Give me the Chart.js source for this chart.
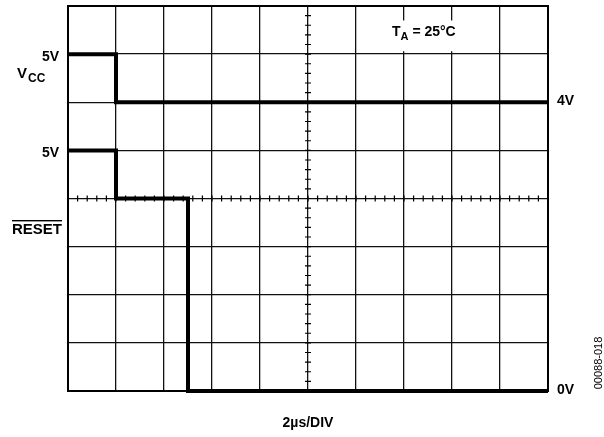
<!DOCTYPE html>
<html>
<head>
<meta charset="utf-8">
<script src="https://cdn.jsdelivr.net/npm/chart.js@4.4.1/dist/chart.umd.min.js"></script>
<style>
  html, body { margin: 0; padding: 0; background: #fff; }
  #wrap { width: 604px; height: 437px; position: relative; }
</style>
</head>
<body>
<div id="wrap"><canvas id="scope"></canvas></div>
<script>
// scope trace data, in divisions (x: 10 div, y: 8 div)
const vccX = [0, 1, 1, 10];
const vccY = [7, 7, 6, 6];
const resetX = [0, 1, 1, 2.5, 2.5, 10];
const resetY = [5, 5, 4, 4, 0, 0];

// side labels: [division, text]
const leftLabels = [[7, '5V'], [5, '5V']];
const rightLabels = [[6, '4V'], [0, '0V']];
const xTitle = '2µs/DIV';
const tempLabel = '= 25°C';
const figId = '00088-018';

const FAM = '"Liberation Sans", Arial, sans-serif';
const FONT = 'bold 14px ' + FAM;

const toPts = (xs, ys) => xs.map((x, i) => ({ x, y: ys[i] }));

const overlay = {
    id: 'overlay',
    beforeDatasetsDraw(chart) {
        const { ctx, chartArea: a, scales: { x, y } } = chart;
        ctx.save();
        // minor ticks on the centre cross
        ctx.strokeStyle = '#000'; ctx.lineWidth = 1.2;
        const cx = x.getPixelForValue(5), cy = y.getPixelForValue(4);
        ctx.beginPath();
        for (let v = 0; v <= 10.001; v += 0.2) {
            const px = x.getPixelForValue(v);
            ctx.moveTo(px, cy - 3); ctx.lineTo(px, cy + 3);
        }
        for (let v = 0; v <= 8.001; v += 0.2) {
            const py = y.getPixelForValue(v);
            ctx.moveTo(cx - 3, py); ctx.lineTo(cx + 3, py);
        }
        ctx.stroke();
        // label box for T_A
        ctx.fillStyle = '#fff';
        ctx.fillRect(x.getPixelForValue(6.5), y.getPixelForValue(7.7), x.getPixelForValue(8.5) - x.getPixelForValue(6.5), y.getPixelForValue(7.06) - y.getPixelForValue(7.7));
        // frame
        ctx.strokeStyle = '#000'; ctx.lineWidth = 2;
        ctx.strokeRect(a.left, a.top, a.right - a.left, a.bottom - a.top);
        ctx.restore();
    },
    afterDatasetsDraw(chart) {
        const { ctx, chartArea: a, scales: { x, y } } = chart;
        ctx.save();
        ctx.fillStyle = '#000';
        ctx.font = FONT;
        ctx.textBaseline = 'middle';
        ctx.textAlign = 'right';
        leftLabels.forEach(([v, t]) => ctx.fillText(t, a.left - 9, y.getPixelForValue(v) + 3));
        ctx.textAlign = 'left';
        rightLabels.forEach(([v, t]) => ctx.fillText(t, a.right + 9, y.getPixelForValue(v) - 1));
        // V_CC
        ctx.font = 'bold 15px ' + FAM;
        ctx.fillText('V', 17, 74);
        ctx.font = 'bold 12px ' + FAM;
        ctx.fillText('CC', 28, 79);
        // RESET with overline
        ctx.font = 'bold 15px ' + FAM;
        const rw = ctx.measureText('RESET').width;
        ctx.fillText('RESET', 62 - rw, 230);
        ctx.fillRect(62 - rw, 220, rw, 1.4);
        // T_A = 25°C
        ctx.font = FONT;
        const tx = 392, ty = 32;
        ctx.fillText('T', tx, ty);
        const tw = ctx.measureText('T').width;
        ctx.font = 'bold 11px ' + FAM;
        ctx.fillText('A', tx + tw, ty + 5);
        const aw = ctx.measureText('A').width;
        ctx.font = FONT;
        ctx.fillText(' ' + tempLabel, tx + tw + aw, ty);
        // x title
        ctx.textAlign = 'center';
        ctx.fillText(xTitle, (a.left + a.right) / 2, 423);
        // figure id, rotated
        ctx.font = '11px ' + FAM;
        ctx.translate(599, 363);
        ctx.rotate(-Math.PI / 2);
        ctx.fillText(figId, 0, 0);
        ctx.restore();
    }
};

const trace = (pts) => ({
    data: pts, borderColor: '#000', borderWidth: 4, pointRadius: 0,
    fill: false, tension: 0, clip: false, borderCapStyle: 'butt', borderJoinStyle: 'miter'
});

new Chart(document.getElementById('scope'), {
    type: 'line',
    data: { datasets: [trace(toPts(vccX, vccY)), trace(toPts(resetX, resetY))] },
    options: {
        responsive: true, maintainAspectRatio: false, animation: false,
        layout: { padding: { left: 68, top: 6, right: 56, bottom: 46 } },
        plugins: { legend: { display: false }, tooltip: { enabled: false } },
        scales: {
            x: {
                type: 'linear', min: 0, max: 10,
                ticks: { display: false, stepSize: 1 },
                grid: { color: '#111', lineWidth: 1.3, drawTicks: false },
                border: { display: false }
            },
            y: {
                type: 'linear', min: 0, max: 8,
                ticks: { display: false, stepSize: 1 },
                grid: { color: '#111', lineWidth: 1.3, drawTicks: false },
                border: { display: false }
            }
        }
    },
    plugins: [overlay]
});
</script>
</body>
</html>
